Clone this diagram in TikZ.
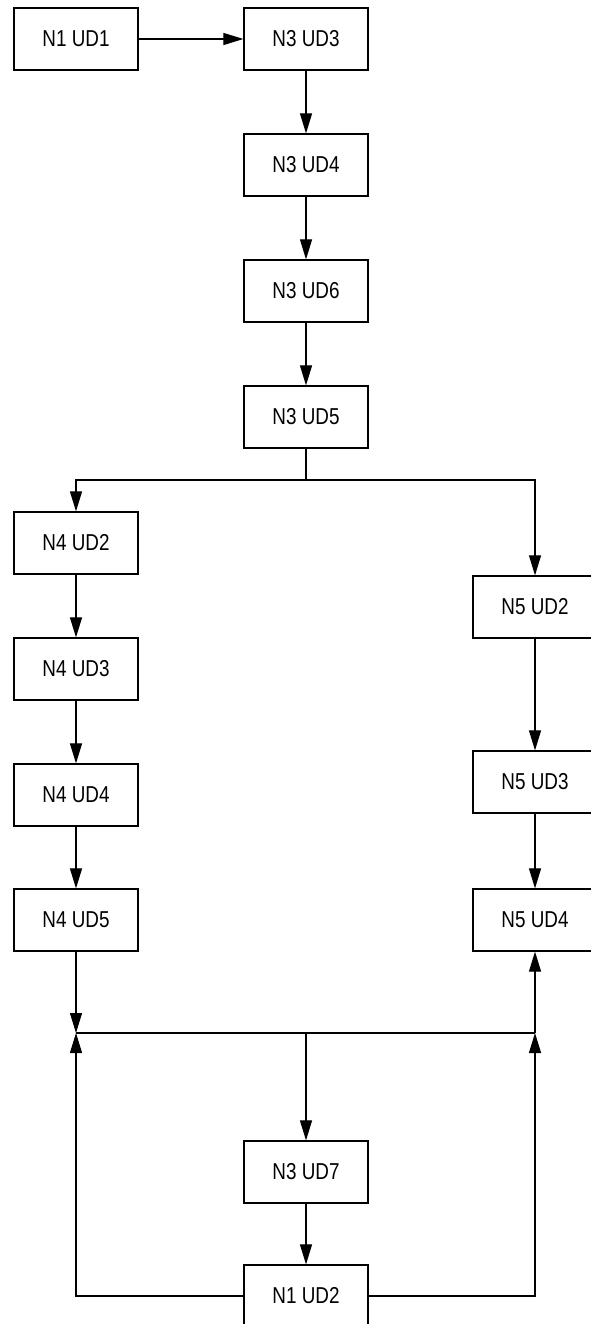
\documentclass[tikz,border=0pt]{standalone}
\usepackage{fontspec}
\setmainfont{Liberation Sans}[FakeStretch=0.82]
\usetikzlibrary{arrows.meta}
\begin{document}
\begin{tikzpicture}[x=1pt,y=-1pt,
  box/.style={draw, line width=1.2pt, minimum width=124pt, minimum height=62pt, inner sep=0pt,
    font=\fontsize{23}{23}\selectfont},
  conn/.style={line width=1.1pt},
  arr/.style={conn, -{Triangle[length=20pt,width=12pt]}}]
\useasboundingbox (0,0) rectangle (591,1324);
% nodes
\node[box] (n1ud1) at (76,39) {N1 UD1};
\node[box] (n3ud3) at (306,39) {N3 UD3};
\node[box] (n3ud4) at (306,165) {N3 UD4};
\node[box] (n3ud6) at (306,291) {N3 UD6};
\node[box] (n3ud5) at (306,417) {N3 UD5};
\node[box] (n4ud2) at (76,543) {N4 UD2};
\node[box] (n4ud3) at (76,669) {N4 UD3};
\node[box] (n4ud4) at (76,795) {N4 UD4};
\node[box] (n4ud5) at (76,920) {N4 UD5};
\node[box] (n5ud2) at (535,607) {N5 UD2};
\node[box] (n5ud3) at (535,782) {N5 UD3};
\node[box] (n5ud4) at (535,920) {N5 UD4};
\node[box] (n3ud7) at (306,1172) {N3 UD7};
\node[box] (n1ud2) at (306,1296) {N1 UD2};
% junction coordinates
\coordinate (split) at (306,480);
\coordinate (jl) at (76,1033);
\coordinate (jm) at (306,1033);
\coordinate (jr) at (535,1033);
% connectors
\draw[arr] (n1ud1) -- (n3ud3);
\draw[arr] (n3ud3) -- (n3ud4);
\draw[arr] (n3ud4) -- (n3ud6);
\draw[arr] (n3ud6) -- (n3ud5);
\draw[conn] (n3ud5) -- (split);
\draw[arr] (split) -| (n4ud2);
\draw[arr] (split) -| (n5ud2);
\draw[arr] (n4ud2) -- (n4ud3);
\draw[arr] (n4ud3) -- (n4ud4);
\draw[arr] (n4ud4) -- (n4ud5);
\draw[arr] (n5ud2) -- (n5ud3);
\draw[arr] (n5ud3) -- (n5ud4);
\draw[arr] (n4ud5) -- (jl);
\draw[conn] (jl) -- (jr);
\draw[arr] (jm) -- (n3ud7);
\draw[arr] (n3ud7) -- (n1ud2);
\draw[arr] (n1ud2.west) -| (jl);
\draw[arr] (n1ud2.east) -| (jr);
\draw[arr] (jr) -- (n5ud4);
\end{tikzpicture}
\end{document}
